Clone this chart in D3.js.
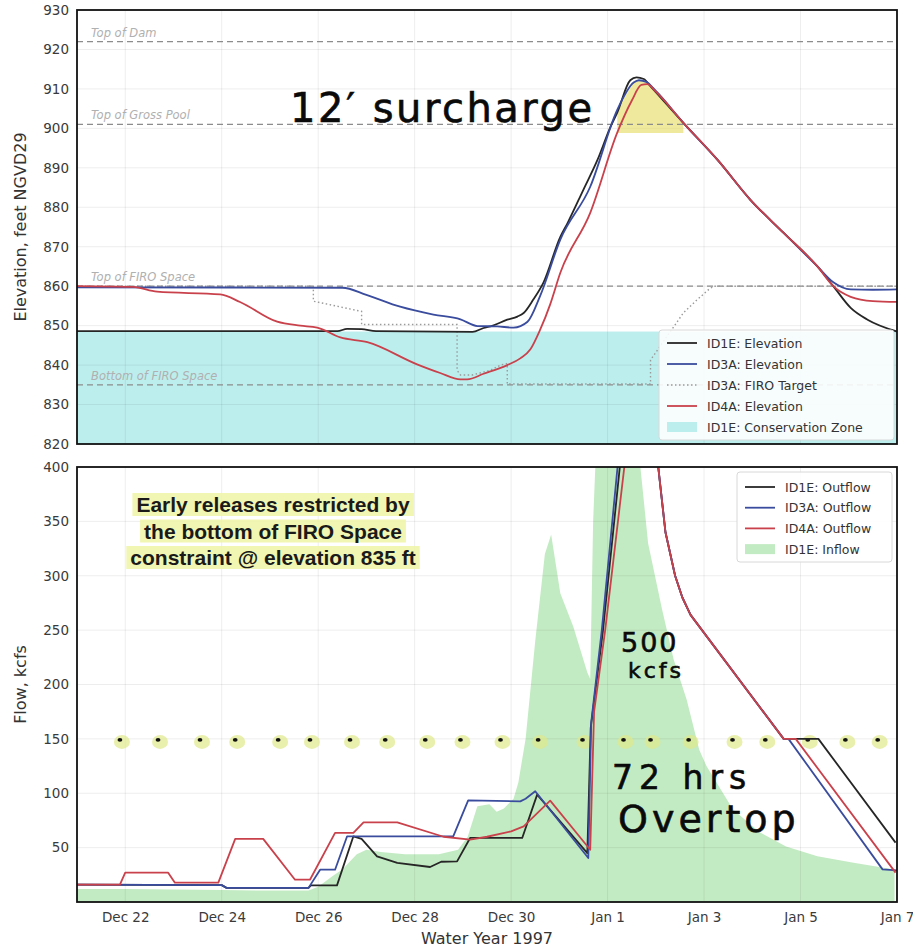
<!DOCTYPE html>
<html>
<head>
<meta charset="utf-8">
<script src="https://cdn.jsdelivr.net/npm/d3@7"></script>
<style>
body{margin:0;background:#fff}
</style>
</head>
<body>
<svg id="chart"></svg>
<script>
// days are counted from Dec 21 1996, 00:00
var baseDate = new Date(1996, 11, 21);

var tickDays = [1, 3, 5, 7, 9, 11, 13, 15, 17];
var tickLabels = ["Dec 22", "Dec 24", "Dec 26", "Dec 28", "Dec 30", "Jan 1", "Jan 3", "Jan 5", "Jan 7"];

var elevTicks = [820, 830, 840, 850, 860, 870, 880, 890, 900, 910, 920, 930];
var flowTicks = [50, 100, 150, 200, 250, 300, 350, 400];

var refLevels = [922, 901, 860, 835];
var refNames = ["Top of Dam", "Top of Gross Pool", "Top of FIRO Space", "Bottom of FIRO Space"];
var conservationTop = 848.5;

var elevID1E = [[0,848.6],[5.4,848.6],[5.6,849.2],[5.9,849.1],[6.2,848.6],[8.2,848.4],[8.43,849.4],[8.57,849.8],[8.92,851.5],[9.13,852.3],[9.26,853.2],[9.46,856.6],[9.67,860.9],[10.02,872.5],[10.17,876],[10.5,884.5],[10.79,892],[11.06,900.4],[11.2,904],[11.47,912.2],[11.6,912.9],[11.75,912.5],[11.9,910.5],[12.57,901.4],[13.28,892],[13.96,881.9],[14.65,873.5],[15.35,865],[15.68,860],[16.04,854.5],[16.39,851.5],[17,848.5]];
var elevID3A = [[0,859.7],[5.5,859.6],[6.0,857.8],[6.7,854.8],[7.39,852.8],[7.95,851.6],[8.3,849.9],[8.71,849.8],[9.05,849.5],[9.34,851],[9.6,857.5],[10.02,871.8],[10.64,885.2],[11.2,904.7],[11.54,911.6],[11.65,912.2],[11.8,911.8],[12.0,909.5],[12.57,901.4],[13.28,892],[13.96,881.9],[14.65,873.5],[15.35,865],[15.68,861],[16.04,859.2],[16.5,859.1],[17,859.2]];
var elevID4A = [[0,860],[1.16,859.8],[1.66,858.6],[2.97,857.9],[3.38,856],[4.15,851],[4.63,850],[4.98,849.5],[5.46,847],[6.02,845.8],[7.05,840.2],[7.53,838],[7.95,836.4],[8.09,836.4],[8.43,837.8],[8.92,840],[9.19,841.7],[9.4,844],[9.6,848.9],[9.81,855.4],[10.02,863.4],[10.64,878.6],[11.2,898.9],[11.5,907],[11.7,911],[11.82,911.2],[12.0,909.3],[12.57,901.4],[13.28,892],[13.96,881.9],[14.65,873.5],[15.35,865],[15.68,860],[16.04,857.3],[16.5,856.2],[17,856]];
var firoTarget = [[0,860],[4.9,860],[4.9,856.2],[5.9,853.6],[5.9,850.3],[7.88,850.3],[7.88,838.7],[7.95,837.5],[8.2,837.5],[8.57,838.7],[8.78,840],[8.92,840.4],[8.92,835.2],[11.89,835.2],[11.89,841.3],[12.37,849.7],[12.57,853.2],[12.85,856.5],[13.1,859.2],[13.2,860],[17,860]];

var inflowID1E = [[0,12],[1,12],[2,11.5],[3,11],[4,10.5],[4.8,10.5],[5.0,14],[5.3,24],[5.5,30],[5.8,44],[6.0,48],[6.3,46],[6.8,44],[7.5,44],[7.9,48],[8.1,60],[8.3,88],[8.55,90],[8.7,83],[8.85,86],[9.05,95],[9.15,110],[9.3,150],[9.5,240],[9.7,320],[9.83,338],[10.02,284],[10.29,253],[10.58,211],[10.64,205],[10.7,350],[10.8,460],[11.1,540],[11.5,470],[11.68,400],[11.84,330],[12.13,269],[12.37,223],[12.64,186],[12.9,140],[13.05,125],[13.6,85],[14.16,64],[14.7,51],[15.35,42],[16.1,36],[16.95,30]];
var outflowID1E = [[0,16],[3.0,15.5],[3.1,13],[4.8,13],[4.85,15.3],[5.39,15.3],[5.73,60.4],[5.9,58],[6.22,42],[6.64,36],[7.32,32.2],[7.55,37],[7.88,37.4],[8.15,58.9],[9.23,58.9],[9.54,98.7],[10.58,45],[10.65,160],[10.9,248],[11.3,420],[11.6,500],[11.85,470],[12.05,400],[12.2,340],[12.4,300],[12.55,280],[12.72,264],[14.65,150],[15.37,150],[16.97,54.6]];
var outflowID3A = [[0,16],[3.0,15.5],[3.1,13],[4.8,13],[5.04,29.7],[5.35,29.7],[5.6,60.4],[7.8,60.4],[8.11,93.5],[9.19,92.5],[9.3,95],[9.5,101.8],[10.6,40.5],[10.66,165],[10.88,250],[11.25,420],[11.6,500],[11.85,470],[12.05,400],[12.2,340],[12.4,300],[12.55,280],[12.72,264],[14.65,150],[14.75,150],[16.7,30],[17,29]];
var outflowID4A = [[0,16],[0.89,16],[1.0,27],[1.89,27],[2.03,17.8],[2.93,17.8],[3.28,58],[3.86,58],[4.52,20.5],[4.83,20.5],[5.35,63.5],[5.73,63.5],[5.94,73.3],[6.64,73.3],[7.6,60],[8.15,57.3],[8.5,60],[9.0,65],[9.26,69.6],[9.81,93.2],[10.64,48],[10.72,175],[10.95,250],[11.4,420],[11.7,500],[11.9,470],[12.05,400],[12.2,340],[12.4,300],[12.55,280],[12.72,264],[14.65,150],[14.9,150],[16.97,27]];

// hand drawn dots along 150 kcfs
var dotDays = [0.89,1.68,2.55,3.28,4.17,4.83,5.66,6.39,7.22,7.95,8.78,9.56,10.48,11.33,11.89,12.68,13.59,14.27,15.15,15.93,16.6];
var dotLevel = 150;

var noteLines = ["Early releases restricted by", "the bottom of FIRO Space", "constraint @ elevation 835 ft"];

var colors = {id1e:"#262626", id3a:"#3a4c9e", id4a:"#c9414b", firo:"#9a9a9a", cons:"#bdeeee", inflow:"#c3ebc3"};

var W = 913, H = 950;
var svg = d3.select("#chart").attr("width", W).attr("height", H)
    .attr("font-family", "DejaVu Sans, sans-serif");

var margins = {left:77, right:16};
var topPanel = {top:10, bottom:444};
var botPanel = {top:467, bottom:902};

var toDate = function(t) { return new Date(baseDate.getTime() + t * 864e5); };

var x = d3.scaleTime()
    .domain([toDate(0), toDate(17)])
    .range([margins.left, W - margins.right]);
var yE = d3.scaleLinear().domain([820, 930]).range([topPanel.bottom, topPanel.top]);
var yF = d3.scaleLinear().domain([0, 400]).range([botPanel.bottom, botPanel.top]);

var defs = svg.append("defs");
defs.append("clipPath").attr("id", "clipTop").append("rect")
    .attr("x", x.range()[0]).attr("y", topPanel.top)
    .attr("width", x.range()[1] - x.range()[0]).attr("height", topPanel.bottom - topPanel.top);
defs.append("clipPath").attr("id", "clipBot").append("rect")
    .attr("x", x.range()[0]).attr("y", botPanel.top)
    .attr("width", x.range()[1] - x.range()[0]).attr("height", botPanel.bottom - botPanel.top);

var lineE = d3.line().x(function(d){ return x(toDate(d[0])); }).y(function(d){ return yE(d[1]); });
var lineF = d3.line().x(function(d){ return x(toDate(d[0])); }).y(function(d){ return yF(d[1]); });

// ---------- top panel ----------
var gT = svg.append("g").attr("clip-path", "url(#clipTop)");

gT.append("rect")
    .attr("x", x.range()[0]).attr("width", x.range()[1] - x.range()[0])
    .attr("y", yE(conservationTop)).attr("height", yE(820) - yE(conservationTop))
    .attr("fill", colors.cons);

var drawGrid = function(g, yScale, yTicks, panel) {
    g.selectAll(".hg").data(yTicks).enter().append("line")
        .attr("x1", x.range()[0]).attr("x2", x.range()[1])
        .attr("y1", yScale).attr("y2", yScale)
        .attr("stroke", "rgba(0,0,0,0.07)");
    g.selectAll(".vg").data(tickDays).enter().append("line")
        .attr("x1", function(d){ return x(toDate(d)); }).attr("x2", function(d){ return x(toDate(d)); })
        .attr("y1", panel.top).attr("y2", panel.bottom)
        .attr("stroke", "rgba(0,0,0,0.07)");
}
drawGrid(gT, yE, elevTicks, topPanel);

// surcharge highlight
var surcharge = elevID3A.filter(function(d){ return d[0] >= 11.15 && d[0] <= 12.8; });
gT.append("path")
    .datum(surcharge)
    .attr("d", d3.area()
        .x(function(d){ return x(toDate(d[0])); })
        .y0(yE(898.8))
        .y1(function(d){ return yE(Math.max(d[1], 898.8)); }))
    .attr("fill", "#e3da5c").attr("opacity", 0.6);

gT.selectAll(".ref").data(refLevels).enter().append("line")
    .attr("x1", x.range()[0]).attr("x2", x.range()[1])
    .attr("y1", yE).attr("y2", yE)
    .attr("stroke", "#8c8c8c").attr("stroke-width", 1.2)
    .attr("stroke-dasharray", "6,4");

gT.selectAll(".refl").data(refLevels).enter().append("text")
    .attr("x", 91).attr("y", function(d){ return yE(d) - 5; })
    .attr("font-size", 11.5).attr("font-style", "italic")
    .attr("fill", "#b0b0b0")
    .text(function(d, i){ return refNames[i]; });

gT.append("path").datum(firoTarget).attr("d", lineE)
    .attr("fill", "none").attr("stroke", colors.firo).attr("stroke-width", 1.4)
    .attr("stroke-dasharray", "1.5,2.5");

[[elevID1E, colors.id1e], [elevID3A, colors.id3a], [elevID4A, colors.id4a]].forEach(function(s) {
    gT.append("path").datum(s[0]).attr("d", lineE.curve(d3.curveMonotoneX))
        .attr("fill", "none").attr("stroke", s[1]).attr("stroke-width", 1.8);
});
lineE.curve(d3.curveLinear);

// ---------- bottom panel ----------
var gB = svg.append("g").attr("clip-path", "url(#clipBot)");

gB.append("path").datum(inflowID1E)
    .attr("d", d3.area()
        .x(function(d){ return x(toDate(d[0])); })
        .y0(yF(0))
        .y1(function(d){ return yF(d[1]); }))
    .attr("fill", colors.inflow);

drawGrid(gB, yF, flowTicks, botPanel);

// hand drawn 150 kcfs dots
gB.selectAll(".dotglow").data(dotDays).enter().append("ellipse")
    .attr("cx", function(d){ return x(toDate(d)) + 2; })
    .attr("cy", yF(dotLevel) + 3)
    .attr("rx", 8).attr("ry", 7)
    .attr("fill", "#dfe88a").attr("opacity", 0.7);
gB.selectAll(".dot").data(dotDays).enter().append("ellipse")
    .attr("cx", function(d){ return x(toDate(d)); })
    .attr("cy", yF(dotLevel) + 1)
    .attr("rx", 2.4).attr("ry", 1.8)
    .attr("fill", "#111");

[[outflowID1E, colors.id1e], [outflowID3A, colors.id3a], [outflowID4A, colors.id4a]].forEach(function(s) {
    gB.append("path").datum(s[0]).attr("d", lineF)
        .attr("fill", "none").attr("stroke", s[1]).attr("stroke-width", 1.8)
        .attr("stroke-linejoin", "round");
});

// ---------- frames & axes ----------
[topPanel, botPanel].forEach(function(p) {
    svg.append("rect")
        .attr("x", x.range()[0]).attr("y", p.top)
        .attr("width", x.range()[1] - x.range()[0]).attr("height", p.bottom - p.top)
        .attr("fill", "none").attr("stroke", "#111").attr("stroke-width", 1.8);
});

var yAxisE = svg.append("g").attr("transform", "translate(" + margins.left + ",0)")
    .call(d3.axisLeft(yE).tickValues(elevTicks).tickSize(0).tickPadding(8));
var yAxisF = svg.append("g").attr("transform", "translate(" + margins.left + ",0)")
    .call(d3.axisLeft(yF).tickValues(flowTicks).tickSize(0).tickPadding(8));
var xAxis = svg.append("g").attr("transform", "translate(0," + botPanel.bottom + ")")
    .call(d3.axisBottom(x).tickValues(tickDays.map(toDate)).tickSize(0).tickPadding(10)
        .tickFormat(function(d, i){ return tickLabels[i]; }));

[yAxisE, yAxisF, xAxis].forEach(function(a) {
    a.select(".domain").remove();
    a.attr("font-family", "DejaVu Sans, sans-serif").attr("font-size", 13.5);
    a.selectAll("text").attr("fill", "#3a3a3a");
});

svg.append("text")
    .attr("transform", "translate(26," + ((topPanel.top + topPanel.bottom) / 2) + ") rotate(-90)")
    .attr("text-anchor", "middle").attr("font-size", 16).attr("fill", "#333")
    .text("Elevation, feet NGVD29");
svg.append("text")
    .attr("transform", "translate(26," + ((botPanel.top + botPanel.bottom) / 2) + ") rotate(-90)")
    .attr("text-anchor", "middle").attr("font-size", 16).attr("fill", "#333")
    .text("Flow, kcfs");
svg.append("text")
    .attr("x", (x.range()[0] + x.range()[1]) / 2).attr("y", 944)
    .attr("text-anchor", "middle").attr("font-size", 16).attr("fill", "#333")
    .text("Water Year 1997");

// ---------- legends ----------
var drawLegend = function(box, items) {
    var g = svg.append("g");
    g.append("rect").attr("x", box.x).attr("y", box.y).attr("width", box.w).attr("height", box.h)
        .attr("fill", "#fff").attr("fill-opacity", 0.88).attr("stroke", "#d8d8d8").attr("rx", 3);
    items.forEach(function(it, i) {
        var yy = box.y + box.first + i * box.step;
        if (it.type === "fill") {
            g.append("rect").attr("x", box.x + 8).attr("y", yy - 5).attr("width", 30).attr("height", 10)
                .attr("fill", it.color);
        } else {
            g.append("line").attr("x1", box.x + 8).attr("x2", box.x + 38).attr("y1", yy).attr("y2", yy)
                .attr("stroke", it.color).attr("stroke-width", it.type === "dot" ? 1.4 : 1.8)
                .attr("stroke-dasharray", it.type === "dot" ? "1.5,2.5" : null);
        }
        g.append("text").attr("x", box.x + 48).attr("y", yy + 4.5)
            .attr("font-size", 12.5).attr("fill", "#333").text(it.label);
    });
}
drawLegend({x:659, y:330, w:235, h:110, first:13, step:21}, [
    {label:"ID1E: Elevation", color:colors.id1e, type:"line"},
    {label:"ID3A: Elevation", color:colors.id3a, type:"line"},
    {label:"ID3A: FIRO Target", color:colors.firo, type:"dot"},
    {label:"ID4A: Elevation", color:colors.id4a, type:"line"},
    {label:"ID1E: Conservation Zone", color:colors.cons, type:"fill"}
]);
drawLegend({x:737, y:472, w:155, h:90, first:15, step:20.7}, [
    {label:"ID1E: Outflow", color:colors.id1e, type:"line"},
    {label:"ID3A: Outflow", color:colors.id3a, type:"line"},
    {label:"ID4A: Outflow", color:colors.id4a, type:"line"},
    {label:"ID1E: Inflow", color:colors.inflow, type:"fill"}
]);

// ---------- annotations ----------
var note = svg.append("g");
noteLines.forEach(function(s, i) {
    var yy = 505 + i * 26.5;
    var t = note.append("text").attr("x", 273).attr("y", yy + 7)
        .attr("text-anchor", "middle").attr("font-size", 21).attr("font-weight", "bold")
        .attr("font-family", "Liberation Sans, Arial, sans-serif").attr("fill", "#1a1a1a").text(s);
    var bb = t.node().getBBox();
    note.insert("rect", "text").attr("x", bb.x - 4).attr("y", bb.y)
        .attr("width", bb.width + 8).attr("height", bb.height)
        .attr("fill", "#eef5a4").attr("opacity", 0.85);
});

var hand = function(txt, xx, yy, size, spacing) {
    svg.append("text").attr("x", xx).attr("y", yy)
        .attr("font-size", size).attr("fill", "#0a0a0a")
        .attr("font-family", "DejaVu Sans, sans-serif")
        .attr("letter-spacing", spacing)
        .attr("stroke", "#0a0a0a").attr("stroke-width", 0.6)
        .text(txt);
}
hand("12\u2032 surcharge", 290, 122, 40, 2.5);
hand("500", 621, 652, 27, 2);
hand("kcfs", 628, 678, 22, 3);
hand("72 hrs", 612, 789, 33, 6);
hand("Overtop", 618, 832, 38, 4);
</script>
</body>
</html>
